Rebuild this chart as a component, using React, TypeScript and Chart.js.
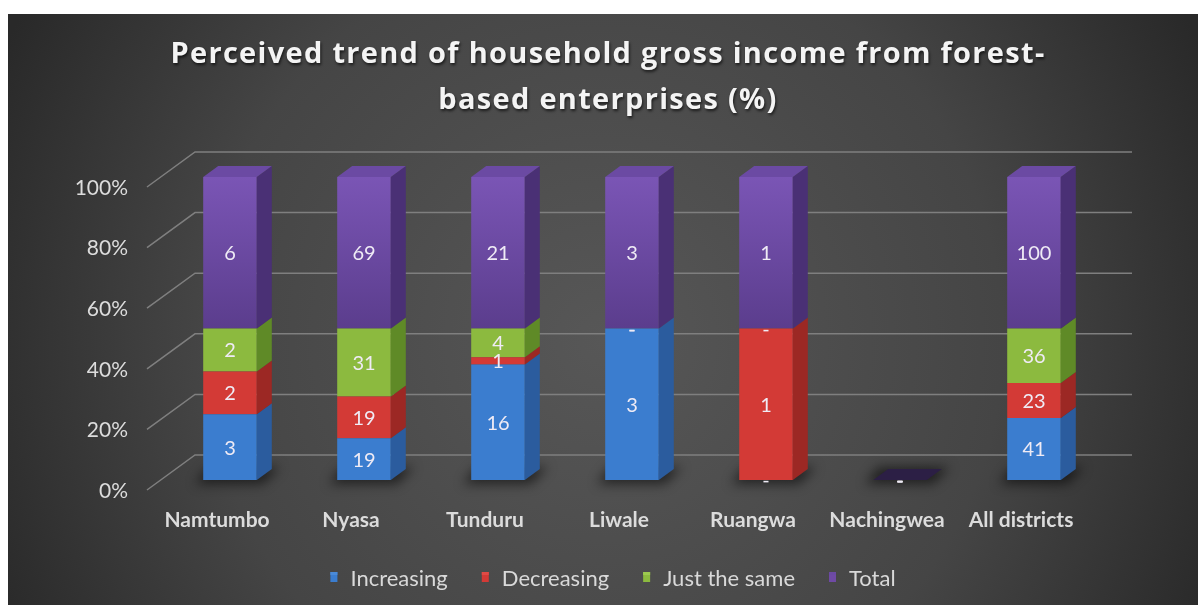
import React, { useEffect, useRef } from "react";
import { Chart, registerables } from "chart.js";
Chart.register(...registerables);

const categories = ["Namtumbo", "Nyasa", "Tunduru", "Liwale", "Ruangwa", "Nachingwea", "All districts"];
const seriesNames = ["Increasing", "Decreasing", "Just the same", "Total"];
const increasing = [2.6, 19, 16, 3, 0, 0, 41];
const decreasing = [1.7, 19, 1, 0, 1, 0, 23];
const justTheSame = [1.7, 31, 4, 0, 0, 0, 36];
const total = [6, 69, 21, 3, 1, 0, 100];
const yTicks = [0, 20, 40, 60, 80, 100];
const titleLines = ["Perceived trend of household gross income from forest-", "based enterprises (%)"];

const frontColors = ["#3b7dcf", "#d33a36", "#8cba3f", "#6f4aa5"];
const sideColors = ["#2b5c9e", "#9c2824", "#5f8a27", "#4a3075"];
const topColors = ["#4a8ad8", "#e04a45", "#9cc94f", "#6b4aa3"];

const raw = [increasing, decreasing, justTheSame, total];
const sums = categories.map((_, i) => raw.reduce((s, arr) => s + arr[i], 0));
const pct = raw.map((arr) => arr.map((v, i) => (sums[i] ? (v / sums[i]) * 100 : 0)));

const DX = 15;
const DY = -11;

const threeD = {
  id: "threeD",
  beforeDraw(chart: any) {
    const { ctx, width, height } = chart;
    ctx.save();
    const g = ctx.createRadialGradient(width / 2, height * 0.55, 0, width / 2, height * 0.55, width * 0.56);
    g.addColorStop(0, "#575757");
    g.addColorStop(0.6, "#454545");
    g.addColorStop(1, "#292929");
    ctx.fillStyle = g;
    ctx.fillRect(0, 0, width, height);
    ctx.fillStyle = "#f4f4f4";
    ctx.font = 'bold 29px "Open Sans"';
    ctx.textAlign = "center";
    ctx.textBaseline = "middle";
    ctx.shadowColor = "rgba(0,0,0,0.65)";
    ctx.shadowBlur = 3;
    ctx.shadowOffsetX = 1;
    ctx.shadowOffsetY = 2;
    (ctx as any).letterSpacing = "1.3px";
    titleLines.forEach((t, i) => ctx.fillText(t, 600, 41 + i * 46));
    ctx.restore();
  },
  beforeDatasetsDraw(chart: any) {
    const { ctx, chartArea } = chart;
    const y = chart.scales.y;
    ctx.save();
    ctx.strokeStyle = "#7f7f7f";
    ctx.lineWidth = 1.5;
    yTicks.forEach((v) => {
      const fy = y.getPixelForValue(v);
      ctx.beginPath();
      ctx.moveTo(chartArea.left - 16, fy + 10);
      ctx.lineTo(chartArea.left + 32, fy - 25);
      ctx.lineTo(chartArea.right + 31, fy - 25);
      ctx.stroke();
    });
    const meta0 = chart.getDatasetMeta(0);
    ctx.filter = "blur(6px)";
    ctx.fillStyle = "rgba(0,0,0,0.55)";
    meta0.data.forEach((el: any) => {
      const { x, base, width } = el.getProps(["x", "base", "width"], true);
      ctx.beginPath();
      ctx.moveTo(x - width / 2 - 8, base + 4);
      ctx.lineTo(x + width / 2 + 6, base + 4);
      ctx.lineTo(x + width / 2 + DX + 8, base + DY - 2);
      ctx.lineTo(x - width / 2 + DX - 10, base + DY - 2);
      ctx.closePath();
      ctx.fill();
    });
    ctx.restore();
  },
  afterDatasetsDraw(chart: any) {
    const { ctx } = chart;
    ctx.save();
    const metas = raw.map((_, d) => chart.getDatasetMeta(d));
    metas.forEach((meta: any, d: number) => {
      meta.data.forEach((el: any) => {
        const { x, y, base, width } = el.getProps(["x", "y", "base", "width"], true);
        if (Math.abs(base - y) < 0.01) return;
        const r = x + width / 2;
        ctx.fillStyle = sideColors[d];
        ctx.beginPath();
        ctx.moveTo(r, y);
        ctx.lineTo(r + DX, y + DY);
        ctx.lineTo(r + DX, base + DY);
        ctx.lineTo(r, base);
        ctx.closePath();
        ctx.fill();
      });
    });
    categories.forEach((_, i) => {
      let top = -1;
      for (let d = raw.length - 1; d >= 0; d--) {
        if (pct[d][i] > 0) { top = d; break; }
      }
      const el = metas[top >= 0 ? top : raw.length - 1].data[i];
      const { x, y, width } = el.getProps(["x", "y", "width"], true);
      const l = x - width / 2;
      const r = x + width / 2;
      ctx.fillStyle = top >= 0 ? topColors[top] : "#2c1f45";
      ctx.beginPath();
      ctx.moveTo(l, y);
      ctx.lineTo(r, y);
      ctx.lineTo(r + DX, y + DY);
      ctx.lineTo(l + DX, y + DY);
      ctx.closePath();
      ctx.fill();
    });
    ctx.font = '20px Lato';
    ctx.fillStyle = "#efebf5";
    ctx.textAlign = "center";
    ctx.textBaseline = "middle";
    metas.forEach((meta: any, d: number) => {
      meta.data.forEach((el: any, i: number) => {
        const { x, y, base } = el.getProps(["x", "y", "base"], true);
        const v = raw[d][i];
        const txt = v === 0 ? "-" : String(Math.round(v));
        ctx.fillText(txt, x, (y + base) / 2 + 1);
      });
    });
    ctx.restore();
  },
  afterDraw(chart: any) {
    const { ctx } = chart;
    ctx.save();
    ctx.font = '22px Lato';
    const boxW = 7;
    const gapBox = 13;
    const gapItem = 34;
    const widths = seriesNames.map((n) => ctx.measureText(n).width);
    const totalW = widths.reduce((s, w) => s + boxW + gapBox + w, 0) + gapItem * (seriesNames.length - 1);
    let x = 605 - totalW / 2;
    const yC = 564;
    seriesNames.forEach((name, i) => {
      ctx.fillStyle = frontColors[i];
      ctx.fillRect(x, yC - 6, boxW, 10);
      ctx.fillStyle = topColors[i];
      ctx.fillRect(x, yC - 6, boxW, 3);
      ctx.fillStyle = "#d9d9d9";
      ctx.textAlign = "left";
      ctx.textBaseline = "middle";
      ctx.fillText(name, x + boxW + gapBox, yC + 1);
      x += boxW + gapBox + widths[i] + gapItem;
    });
    ctx.restore();
  },
};

export default function App() {
  const ref = useRef<HTMLCanvasElement | null>(null);
  useEffect(() => {
    if (!ref.current) return;
    const chart = new Chart(ref.current, {
      type: "bar",
      data: {
        labels: categories,
        datasets: seriesNames.map((name, d) => ({
          label: name,
          data: pct[d],
          backgroundColor: (c: any) => {
            const area = c.chart.chartArea;
            if (!area || d !== 3) return frontColors[d];
            const g = c.chart.ctx.createLinearGradient(0, area.top, 0, (area.top + area.bottom) / 2);
            g.addColorStop(0, "#7a55b5");
            g.addColorStop(1, "#5b3d8d");
            return g;
          },
          borderWidth: 0,
          barPercentage: 0.4,
          categoryPercentage: 1,
        })),
      },
      options: {
        animation: false,
        responsive: false,
        devicePixelRatio: 1,
        layout: { padding: { left: 0, right: 97, top: 163, bottom: 0 } },
        plugins: { legend: { display: false }, tooltip: { enabled: false }, title: { display: false } },
        scales: {
          x: {
            stacked: true,
            grid: { display: false, drawTicks: false },
            border: { display: false },
            ticks: {
              color: "#dcdcdc",
              font: { family: "Lato", size: 21, weight: "bold" },
              padding: 28,
              labelOffset: -13,
              maxRotation: 0,
              autoSkip: false,
            },
            afterFit: (s: any) => { s.height = 125; },
          },
          y: {
            stacked: true,
            min: 0,
            max: 100,
            grid: { display: false, drawTicks: false },
            border: { display: false },
            ticks: {
              stepSize: 20,
              color: "#dcdcdc",
              font: { family: "Lato", size: 21 },
              padding: 35,
              labelOffset: 11,
              callback: (v: any) => v + "%",
            },
            afterFit: (s: any) => { s.width = 155; },
          },
        },
      },
      plugins: [threeD],
    });
    return () => chart.destroy();
  }, []);
  return (
    <div style={{ position: "absolute", left: 8, top: 14, width: 1190, height: 591 }}>
      <canvas ref={ref} width={1190} height={591} style={{ display: "block", width: 1190, height: 591 }} />
    </div>
  );
}
